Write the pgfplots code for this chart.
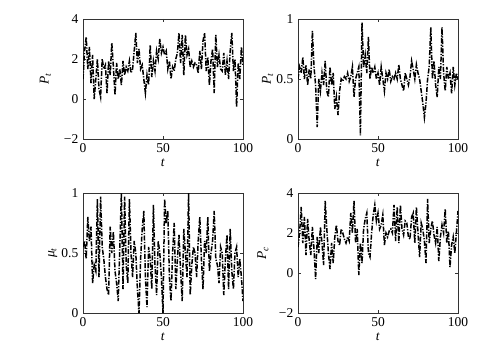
\documentclass[border=0pt]{standalone}
\usepackage{fontspec}
\setmainfont{Liberation Serif}
\usepackage{pgfplots}
\pgfplotsset{compat=1.18}
\newcommand{\lblfont}{\fontsize{13.5bp}{16bp}\selectfont}
\pgfplotsset{
  every tick label/.append style={font=\lblfont},
  every axis label/.append style={font=\lblfont},
  myax/.style={
    scale only axis, width=160bp, height=120bp,
    anchor=south west,
    xmin=0, xmax=100, xtick={0,50,100}, xticklabels={0,50,100},
    tick align=inside, major tick length=3bp,
    axis line style={black!80, line width=0.8bp},
    every tick/.style={black!80, line width=0.8bp},
    xlabel={\textit{t}},
    xlabel style={at={(axis description cs:0.5,-0.2)}, anchor=center},
    clip=true,
  },
  ser/.style={black, line width=1.5bp, dash pattern=on 5bp off 1.5bp on 1.2bp off 1.5bp},
}
\begin{document}
\lblfont
\begin{tikzpicture}[font=\lblfont]
\useasboundingbox (0,0) rectangle (479bp,351bp);
% top-left P_t
\begin{axis}[myax, at={(83bp,212bp)}, ymin=-2, ymax=4, ytick={-2,0,2,4}, yticklabels={−2,0,2,4},
  ylabel={\textit{P\textsubscript{t}}}, ylabel style={at={(axis description cs:-0.235,0.5)}, anchor=center}]
\addplot[ser] table[x expr=\coordindex, y index=0, header=false, row sep=\\] {
1.0\\2.4\\3.1\\1.5\\2.6\\0.8\\2.2\\0.0\\1.0\\2.0\\0.5\\0.1\\2.0\\1.5\\1.7\\0.3\\1.9\\1.2\\2.8\\1.6\\
0.2\\1.8\\1.0\\1.5\\0.7\\1.9\\1.2\\1.6\\1.4\\1.9\\1.3\\1.5\\2.4\\3.3\\1.8\\2.5\\1.5\\1.7\\1.0\\0.3\\
1.2\\0.7\\2.7\\1.1\\1.9\\1.4\\2.4\\2.0\\3.0\\2.3\\2.6\\2.2\\2.4\\1.5\\1.9\\1.0\\1.6\\1.4\\2.0\\2.3\\
3.3\\1.8\\3.2\\1.2\\3.2\\2.2\\2.5\\1.6\\1.9\\1.6\\1.8\\1.7\\1.3\\2.4\\1.5\\2.9\\3.3\\1.4\\2.1\\0.7\\
1.9\\2.5\\0.3\\3.2\\1.6\\2.2\\1.5\\1.4\\2.3\\1.2\\1.9\\1.0\\2.4\\3.3\\1.4\\2.0\\-0.4\\1.8\\1.0\\2.6\\1.7\\
};
\end{axis}
% top-right p_t
\begin{axis}[myax, at={(298bp,212bp)}, ymin=0, ymax=1, ytick={0,0.5,1}, yticklabels={0,0.5,1},
  ylabel={\textit{P\textsubscript{t}}}, ylabel style={at={(axis description cs:-0.19,0.5)}, anchor=center}]
\addplot[ser] table[x expr=\coordindex, y index=0, header=false, row sep=\\] {
0.5\\0.6\\0.55\\0.68\\0.5\\0.62\\0.45\\0.58\\0.5\\0.9\\0.6\\0.45\\0.1\\0.5\\0.4\\0.55\\0.45\\0.65\\0.4\\0.35\\
0.6\\0.45\\0.55\\0.25\\0.35\\0.2\\0.4\\0.5\\0.48\\0.52\\0.5\\0.55\\0.48\\0.52\\0.6\\0.35\\0.5\\0.55\\0.6\\0.03\\
0.97\\0.6\\0.7\\0.55\\0.85\\0.5\\0.6\\0.55\\0.6\\0.5\\0.55\\0.45\\0.6\\0.5\\0.4\\0.55\\0.5\\0.58\\0.48\\0.52\\
0.5\\0.55\\0.5\\0.62\\0.5\\0.45\\0.4\\0.55\\0.5\\0.45\\0.52\\0.65\\0.58\\0.5\\0.62\\0.55\\0.5\\0.4\\0.3\\0.18\\
0.3\\0.5\\0.6\\0.93\\0.5\\0.65\\0.45\\0.35\\0.6\\0.5\\0.93\\0.55\\0.4\\0.6\\0.5\\0.55\\0.38\\0.6\\0.45\\0.55\\0.5\\
};
\end{axis}
% bottom-left mu_t
\begin{axis}[myax, at={(83bp,38bp)}, ymin=0, ymax=1, ytick={0,0.5,1}, yticklabels={0,0.5,1},
  ylabel={\textit{μ\textsubscript{t}}}, ylabel style={at={(axis description cs:-0.19,0.5)}, anchor=center}]
\addplot[ser] table[x expr=\coordindex, y index=0, header=false, row sep=\\] {
0.55\\0.6\\0.45\\0.8\\0.6\\0.72\\0.25\\0.4\\0.35\\0.95\\0.3\\0.97\\0.55\\0.45\\0.3\\0.2\\0.15\\0.72\\0.5\\0.68\\
0.35\\0.25\\0.1\\0.55\\1.0\\0.2\\0.97\\0.4\\0.25\\0.95\\0.5\\0.3\\0.6\\0.5\\0.2\\0.0\\0.45\\0.7\\0.85\\0.3\\
0.05\\0.55\\0.45\\0.2\\0.9\\0.4\\0.15\\0.6\\0.5\\0.3\\0.0\\0.95\\0.75\\0.85\\0.3\\0.1\\0.5\\0.75\\0.2\\0.45\\
0.65\\0.35\\0.1\\0.7\\0.5\\0.3\\1.0\\0.15\\0.4\\0.55\\0.5\\0.3\\0.6\\0.8\\0.45\\0.2\\0.6\\0.5\\0.8\\0.35\\
0.5\\0.6\\0.85\\0.45\\0.4\\0.25\\0.55\\0.5\\0.15\\0.45\\0.65\\0.2\\0.7\\0.35\\0.2\\0.5\\0.55\\0.3\\0.45\\0.3\\0.1\\
};
\end{axis}
% bottom-right P_c
\begin{axis}[myax, at={(298bp,38bp)}, ymin=-2, ymax=4, ytick={-2,0,2,4}, yticklabels={−2,0,2,4},
  ylabel={\textit{P\textsubscript{c}}}, ylabel style={at={(axis description cs:-0.22,0.5)}, anchor=center}]
\addplot[ser] table[x expr=\coordindex, y index=0, header=false, row sep=\\] {
1.3\\2.0\\3.3\\1.5\\2.8\\0.9\\2.7\\1.6\\0.9\\2.3\\1.2\\-0.3\\1.8\\1.0\\2.3\\1.5\\0.4\\3.6\\2.2\\1.0\\
0.2\\1.5\\0.5\\1.8\\2.4\\1.6\\1.4\\2.2\\2.0\\1.7\\1.5\\1.8\\1.6\\3.0\\2.0\\3.6\\1.5\\2.2\\-0.1\\1.5\\
0.5\\2.2\\2.7\\3.0\\1.0\\0.8\\2.0\\2.9\\3.4\\2.6\\3.0\\2.2\\2.4\\2.9\\1.4\\2.0\\1.8\\2.1\\2.2\\2.0\\
3.4\\1.6\\3.3\\1.5\\3.4\\2.2\\1.9\\2.6\\2.5\\1.8\\1.7\\2.8\\3.0\\1.5\\3.3\\2.0\\0.8\\2.5\\2.2\\1.6\\
0.5\\3.7\\1.5\\2.2\\2.6\\1.9\\1.5\\2.3\\0.6\\1.8\\2.4\\2.0\\3.2\\1.5\\2.1\\0.3\\1.4\\1.8\\1.0\\2.0\\3.1\\
};
\end{axis}
\end{tikzpicture}
\end{document}
